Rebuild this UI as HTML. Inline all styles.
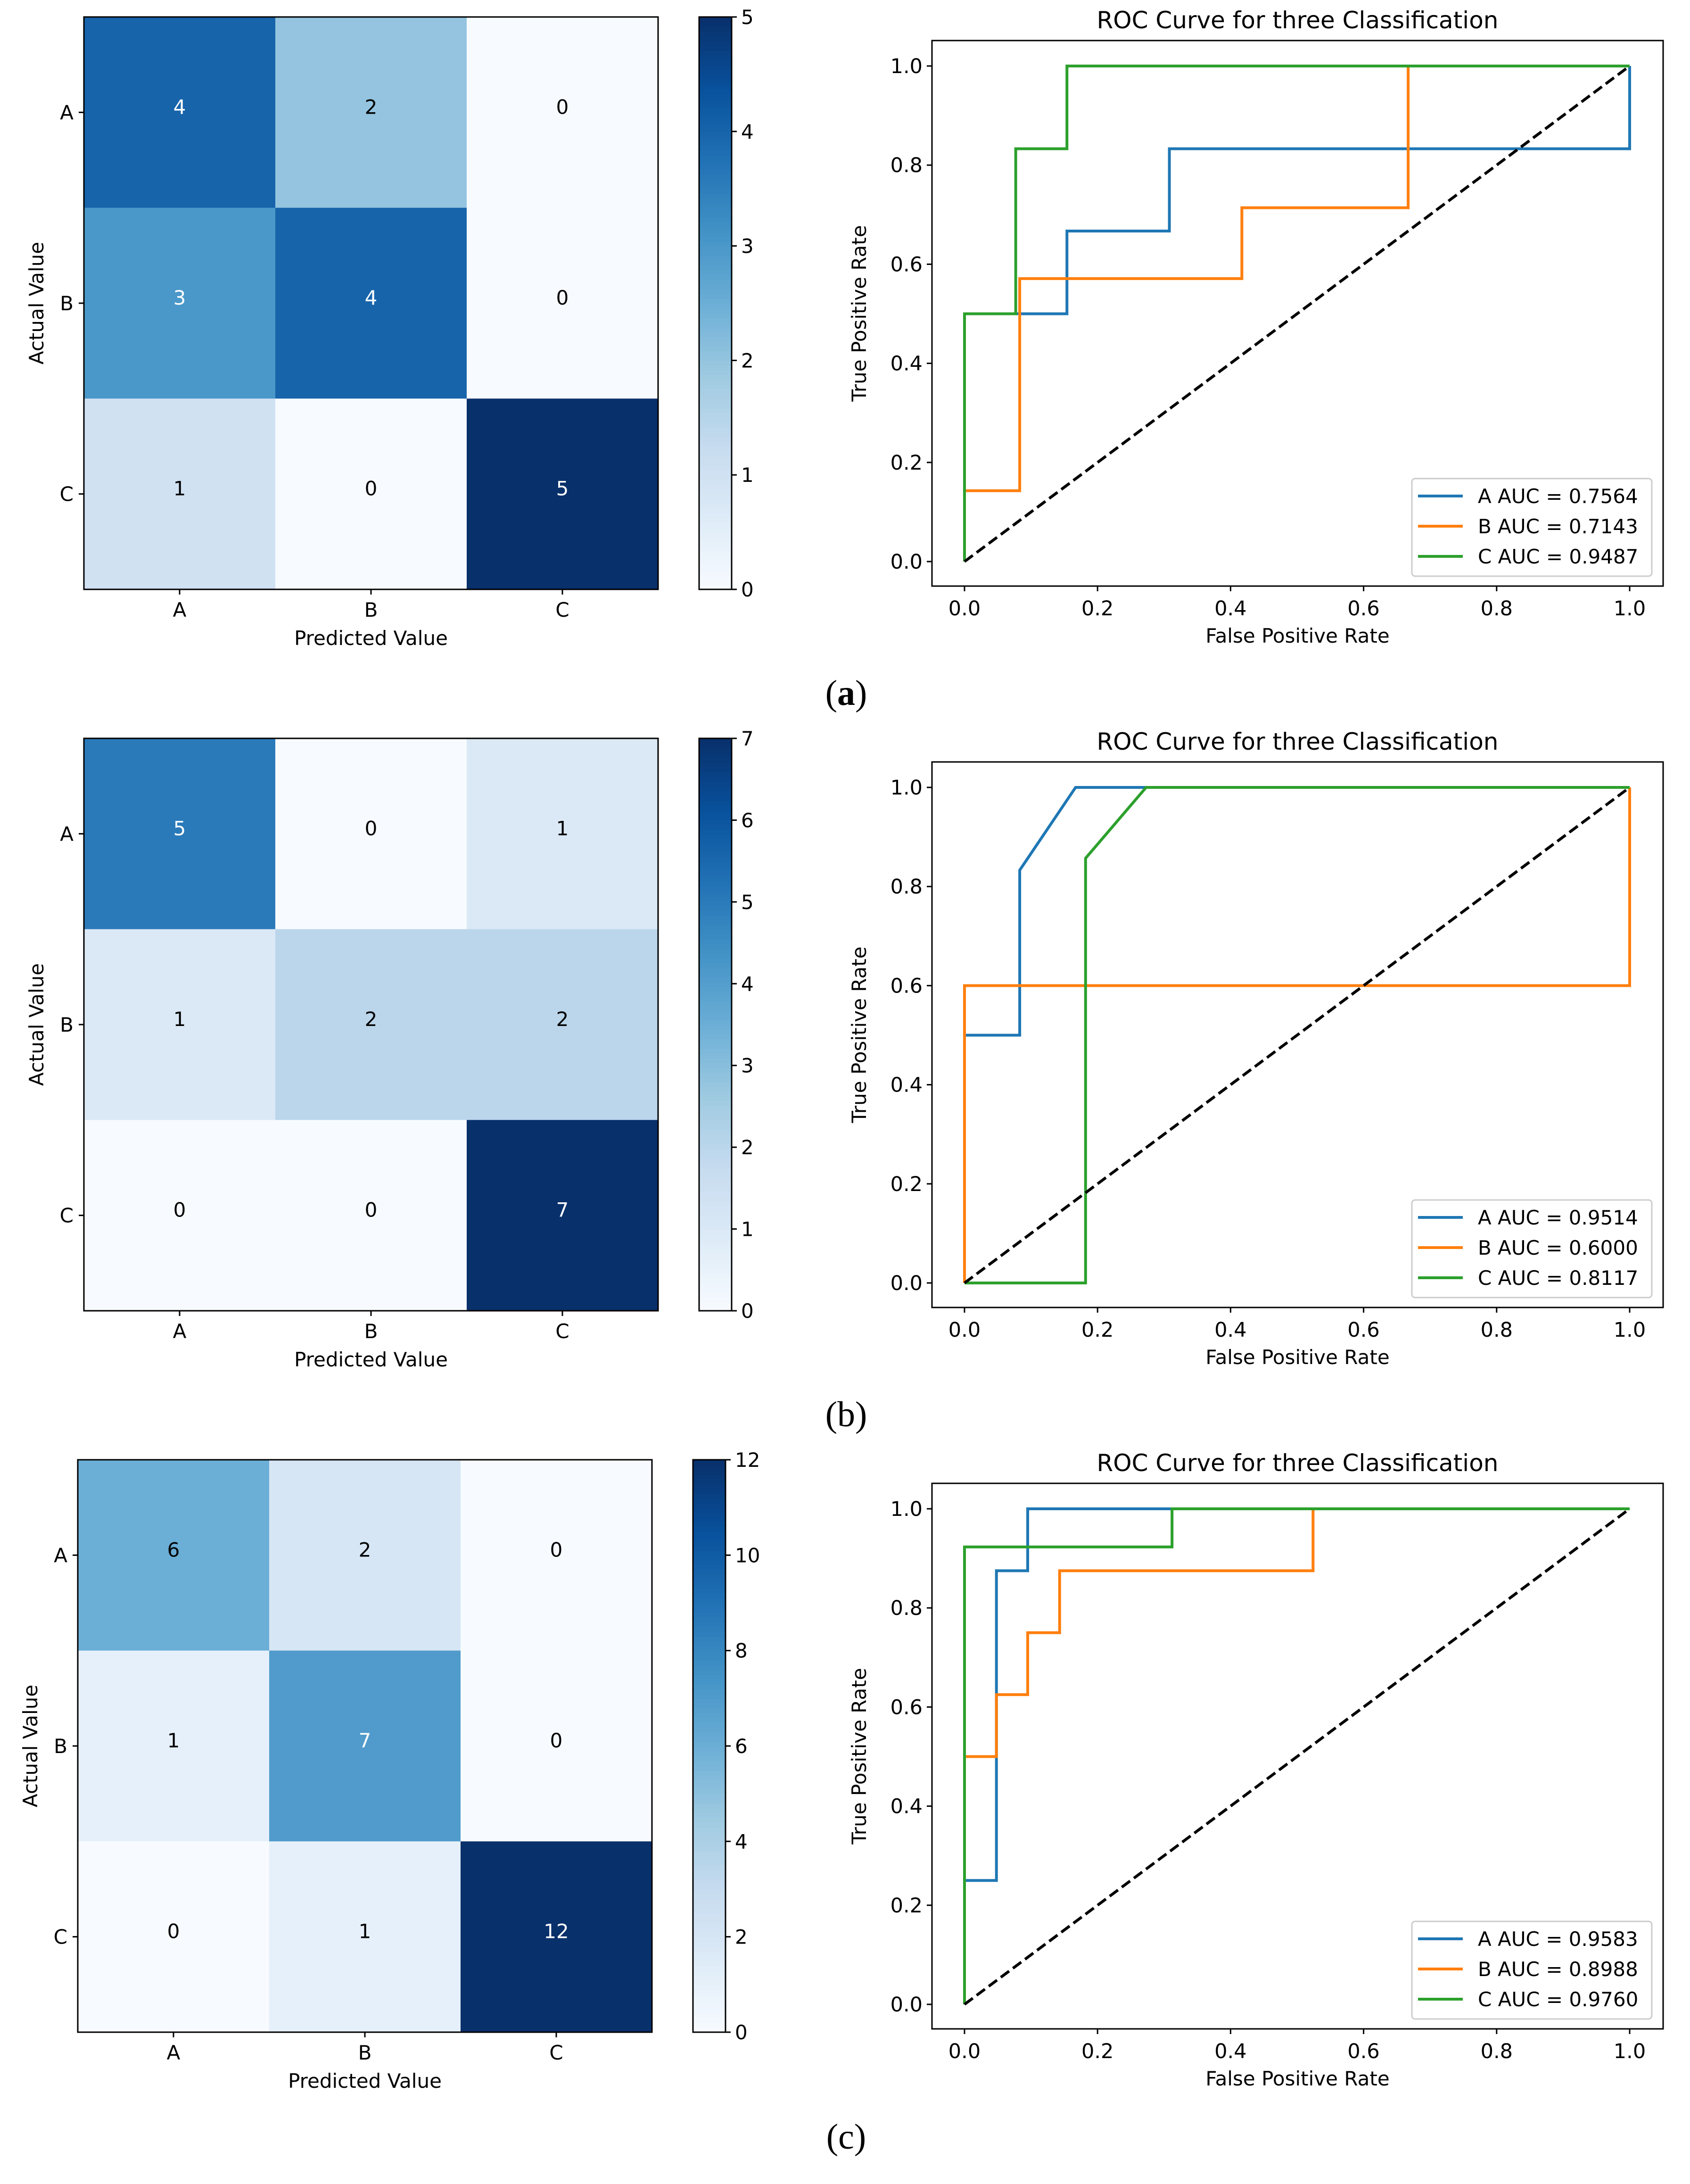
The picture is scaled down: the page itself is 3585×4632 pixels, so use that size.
<!DOCTYPE html>
<html><head><meta charset="utf-8"><style>
html,body{margin:0;padding:0;background:#fff;}
svg{display:block;font-family:"DejaVu Sans","Liberation Sans",sans-serif;}
</style></head><body>
<svg id="fig" width="3585" height="4632" viewBox="0 0 3585 4632" xmlns="http://www.w3.org/2000/svg"></svg>
<script>
// ---- data ----
const classes = ["A","B","C"];
const matA = [[4,2,0],[3,4,0],[1,0,5]];
const matB = [[5,0,1],[1,2,2],[0,0,7]];
const matC = [[6,2,0],[1,7,0],[0,1,12]];
const cbarTicksA = [0,1,2,3,4,5];
const cbarTicksB = [0,1,2,3,4,5,6,7];
const cbarTicksC = [0,2,4,6,8,10,12];
const rocTicks = [0,0.2,0.4,0.6,0.8,1.0];
// panel a
const aFprA = [0,0,0.077,0.154,0.154,0.308,0.308,1,1];
const aTprA = [0,0.5,0.5,0.5,0.667,0.667,0.833,0.833,1];
const aFprB = [0,0,0.083,0.083,0.417,0.417,0.667,0.667,1];
const aTprB = [0,0.143,0.143,0.571,0.571,0.714,0.714,1,1];
const aFprC = [0,0,0.077,0.077,0.154,0.154,1];
const aTprC = [0,0.5,0.5,0.833,0.833,1,1];
const aAuc = ["0.7564","0.7143","0.9487"];
// panel b
const bFprA = [0,0,0.083,0.083,0.167,1];
const bTprA = [0,0.5,0.5,0.833,1,1];
const bFprB = [0,0,1,1];
const bTprB = [0,0.6,0.6,1];
const bFprC = [0,0.182,0.182,0.273,1];
const bTprC = [0,0,0.857,1,1];
const bAuc = ["0.9514","0.6000","0.8117"];
// panel c
const cFprA = [0,0,0.048,0.048,0.095,0.095,1];
const cTprA = [0,0.25,0.25,0.875,0.875,1,1];
const cFprB = [0,0,0.048,0.048,0.095,0.095,0.143,0.143,0.524,0.524,1];
const cTprB = [0,0.5,0.5,0.625,0.625,0.75,0.75,0.875,0.875,1,1];
const cFprC = [0,0,0.312,0.312,1];
const cTprC = [0,0.923,0.923,1,1];
const cAuc = ["0.9583","0.8988","0.9760"];

const NS="http://www.w3.org/2000/svg";
const svg=document.getElementById('fig');
function mk(tag,attrs,parent,text){const e=document.createElementNS(NS,tag);for(const k in attrs)e.setAttribute(k,attrs[k]);if(text!==undefined)e.textContent=text;(parent||svg).appendChild(e);return e;}

const stops=["#f7fbff","#deebf7","#c6dbef","#9ecae1","#6baed6","#4292c6","#2171b5","#08519c","#08306b"];
function hex(h){return [1,3,5].map(i=>parseInt(h.substr(i,2),16));}
function blues(t){t=Math.max(0,Math.min(1,t));const p=t*8;const i=Math.min(7,Math.floor(p));const f=p-i;const a=hex(stops[i]),b=hex(stops[i+1]);return "rgb("+a.map((v,k)=>Math.round(v+(b[k]-v)*f)).join(",")+")";}

const COLORS=["#1f77b4","#ff7f0e","#2ca02c"];
const panels=[
 {dy:0,dx:0,mat:matA,ticks:cbarTicksA,fpr:[aFprA,aFprB,aFprC],tpr:[aTprA,aTprB,aTprC],auc:aAuc,label:"a",bold:true},
 {dy:1530,dx:0,mat:matB,ticks:cbarTicksB,fpr:[bFprA,bFprB,bFprC],tpr:[bTprA,bTprB,bTprC],auc:bAuc,label:"b",bold:false},
 {dy:3060,dx:-13,mat:matC,ticks:cbarTicksC,fpr:[cFprA,cFprB,cFprC],tpr:[cTprA,cTprB,cTprC],auc:cAuc,label:"c",bold:false}
];

panels.forEach((p,pi)=>{
 const g=mk('g',{});
 
 
 // ---- heatmap ----
 const L=178+p.dx,R=1396+p.dx,T=36+p.dy,B=1250+p.dy;
 const cw=(R-L)/3,ch=(B-T)/3;
 const mx=Math.max(...p.mat.flat());
 const hm=mk('g',{},g);
 
 
 p.mat.forEach((row,r)=>row.forEach((v,c)=>{
  const rc=mk('rect',{x:L+c*cw,y:T+r*ch,width:cw+0.5,height:ch+0.5,fill:blues(v/mx)},hm);
  
  
  const t=mk('text',{x:L+(c+0.5)*cw,y:T+(r+0.5)*ch+3,'text-anchor':'middle','font-size':42,fill:v>mx/2?'#fff':'#000'},hm,String(v));
  
  
 }));
 mk('rect',{x:L,y:T,width:R-L,height:B-T,fill:'none',stroke:'#000','stroke-width':3},hm);
 classes.forEach((cl,i)=>{
  const cx=L+(i+0.5)*cw, cy=T+(i+0.5)*ch;
  mk('line',{x1:cx,y1:B,x2:cx,y2:B+11,stroke:'#000','stroke-width':3},hm);
  const tx=mk('text',{x:cx,y:B+58,'text-anchor':'middle','font-size':42},hm,cl);
  
  
  mk('line',{x1:L-11,y1:cy,x2:L,y2:cy,stroke:'#000','stroke-width':3},hm);
  const ty=mk('text',{x:L-22,y:cy+15,'text-anchor':'end','font-size':42},hm,cl);
  
  
 });
 const xl=mk('text',{x:(L+R)/2,y:B+118,'text-anchor':'middle','font-size':42},hm,'Predicted Value');
 
 
 const ylx=L-86, yly=(T+B)/2;
 const yl=mk('text',{x:ylx,y:yly,'text-anchor':'middle','font-size':42,transform:'rotate(-90 '+ylx+' '+yly+')'},hm,'Actual Value');
 
 
 // colorbar
 const cbL=1483+p.dx,cbR=1552+p.dx;
 const cb=mk('g',{},g);
 
 
 const N=120;
 for(let k=0;k<N;k++){
  mk('rect',{x:cbL,y:B-(k+1)*(B-T)/N,width:cbR-cbL,height:(B-T)/N+1,fill:blues((k+0.5)/N)},cb);
 }
 mk('rect',{x:cbL,y:T,width:cbR-cbL,height:B-T,fill:'none',stroke:'#000','stroke-width':3},cb);
 p.ticks.forEach(v=>{
  const y=B-v/mx*(B-T);
  mk('line',{x1:cbR,y1:y,x2:cbR+11,y2:y,stroke:'#000','stroke-width':3},cb);
  const t=mk('text',{x:cbR+20,y:y+15,'font-size':42},cb,String(v));
  
  
 });
 // ---- ROC ----
 const aL=1977,aR=3528,aT=86+p.dy,aB=1243+p.dy;
 const x0=2046,x1=3457,y0=1191+p.dy,y1=140+p.dy;
 const X=v=>x0+v*(x1-x0), Y=v=>y0+v*(y1-y0);
 const rg=mk('g',{},g);
 
 
 const tt=mk('text',{x:(aL+aR)/2,y:aT-26,'text-anchor':'middle','font-size':50},rg,'ROC Curve for three Classification');
 
 
 rocTicks.forEach(v=>{
  mk('line',{x1:X(v),y1:aB,x2:X(v),y2:aB+11,stroke:'#000','stroke-width':3},rg);
  const a=mk('text',{x:X(v),y:aB+62,'text-anchor':'middle','font-size':43},rg,v.toFixed(1));
  
  
  mk('line',{x1:aL-11,y1:Y(v),x2:aL,y2:Y(v),stroke:'#000','stroke-width':3},rg);
  const b=mk('text',{x:aL-20,y:Y(v)+15,'text-anchor':'end','font-size':43},rg,v.toFixed(1));
  
  
 });
 const rx=mk('text',{x:(aL+aR)/2,y:aB+120,'text-anchor':'middle','font-size':42},rg,'False Positive Rate');
 
 
 const ryx=1837, ryy=(aT+aB)/2;
 const ry=mk('text',{x:ryx,y:ryy,'text-anchor':'middle','font-size':42,transform:'rotate(-90 '+ryx+' '+ryy+')'},rg,'True Positive Rate');
 
 
 [0,1,2].forEach(s=>{
  const pts=p.fpr[s].map((f,i)=>X(f)+','+Y(p.tpr[s][i])).join(' ');
  const pl=mk('polyline',{points:pts,fill:'none',stroke:COLORS[s],'stroke-width':6,'stroke-linejoin':'miter'},rg);
  
  
 });
 const dg=mk('line',{x1:X(0),y1:Y(0),x2:X(1),y2:Y(1),stroke:'#000','stroke-width':6,'stroke-dasharray':'22 10'},rg);
 
 
 mk('rect',{x:aL,y:aT,width:aR-aL,height:aB-aT,fill:'none',stroke:'#000','stroke-width':3},rg);
 // legend
 const lgT=aB-228, lgB=aB-21;
 const lg=mk('g',{},rg);
 
 
 mk('rect',{x:2995,y:lgT,width:509,height:lgB-lgT,rx:7,fill:'#fff','fill-opacity':0.8,stroke:'#cccccc','stroke-width':3},lg);
 [0,1,2].forEach(s=>{
  const yy=lgT+37+s*64;
  const e=mk('g',{},lg);
  
  
  mk('line',{x1:3008,y1:yy,x2:3103,y2:yy,stroke:COLORS[s],'stroke-width':6},e);
  mk('text',{x:3135,y:yy+15,'font-size':42},e,classes[s]+' AUC = '+p.auc[s]);
 });
 // panel letter
 const pl=mk('text',{x:1795,y:1495+p.dy-(pi==2?-2:0),'text-anchor':'middle','font-size':76,'font-family':'"Liberation Serif",serif'},g);
 
 
 mk('tspan',{},pl,'(');
 mk('tspan',{'font-weight':p.bold?'bold':'normal'},pl,p.label);
 mk('tspan',{},pl,')');
});
</script>
</body></html>
